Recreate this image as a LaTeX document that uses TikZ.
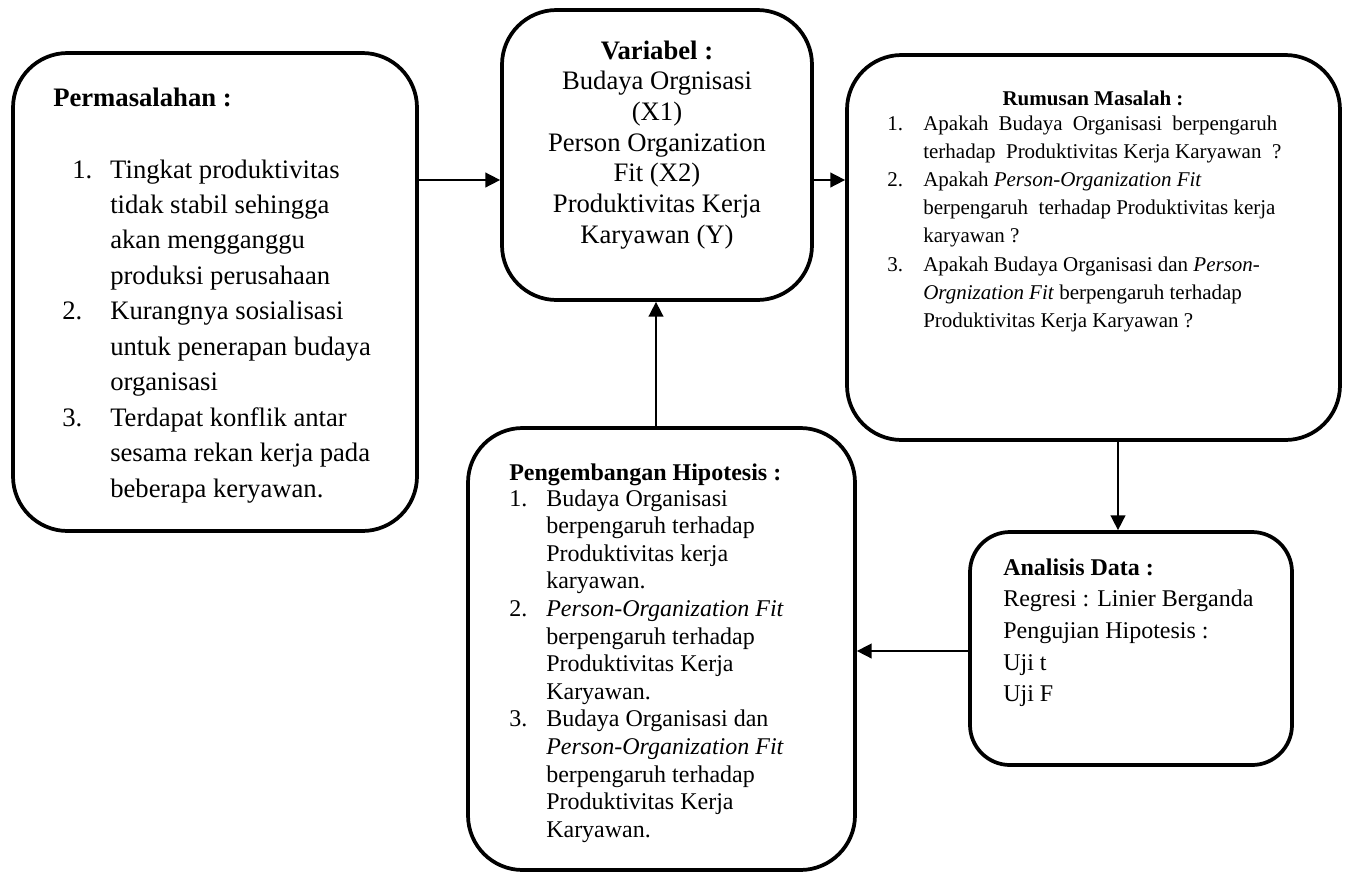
\documentclass[tikz,border=0pt]{standalone}
\usepackage{fontspec}
\setmainfont{Liberation Serif}
\usetikzlibrary{arrows.meta}
\tikzset{
  boxnode/.style={draw, line width=2.8pt, rounded corners=41pt, inner sep=0pt},
  smallbox/.style={boxnode, rounded corners=30pt},
  arr/.style={line width=1.2pt, -{Triangle[length=11pt,width=11pt]}},
  txt/.style={inner sep=0pt, anchor=base west},
}
\begin{document}
\begin{tikzpicture}[x=0.75pt,y=-0.75pt]
\useasboundingbox (0,0) rectangle (1354,872);
% boxes
\node[boxnode, minimum width=303pt, minimum height=358.5pt] (A) at (215,292) {};
\node[boxnode, minimum width=232.5pt, minimum height=217.5pt] (B) at (657,155) {};
\node[boxnode, minimum width=369.75pt, minimum height=288.75pt] (C) at (1093.5,247.5) {};
\node[boxnode, minimum width=290.25pt, minimum height=331.5pt] (D) at (661.5,649) {};
\node[smallbox, minimum width=241.5pt, minimum height=174.75pt] (E) at (1131,648.5) {};
% texts
\node[txt] (Atitle) at (53,106) {\fontsize{20}{26}\selectfont\bfseries Permasalahan :};
\node[txt] (Alist) at (62,178) {\fontsize{20}{26.6}\selectfont
\begin{tabular}[t]{@{}p{36pt}@{}l@{}}
\hspace*{7.5pt}1. & Tingkat produktivitas\\
 & tidak stabil sehingga\\
 & akan mengganggu\\
 & produksi perusahaan\\
2. & Kurangnya sosialisasi\\
 & untuk penerapan budaya\\
 & organisasi\\
3. & Terdapat konflik antar\\
 & sesama rekan kerja pada\\
 & beberapa keryawan.
\end{tabular}};
\node[inner sep=0pt, anchor=base] (Btext) at (657,59) {\fontsize{20}{23}\selectfont
\begin{tabular}[t]{@{}c@{}}
\textbf{Variabel :}\\
Budaya Orgnisasi\\
(X1)\\
Person Organization\\
Fit (X2)\\
Produktivitas Kerja\\
Karyawan (Y)
\end{tabular}};
\node[inner sep=0pt, anchor=base] (Ctitle) at (1093,105) {\fontsize{15.75}{21}\selectfont\bfseries Rumusan Masalah :};
\node[txt] (Clist) at (887,130) {\fontsize{15.75}{21.15}\selectfont
\begin{tabular}[t]{@{}p{27pt}@{}l@{}}
1. & \makebox[265.5pt][s]{Apakah Budaya Organisasi berpengaruh}\\
 & terhadap\ \ Produktivitas Kerja Karyawan\ \ ?\\
2. & Apakah \textit{Person-Organization Fit}\\
 & berpengaruh\ \ terhadap Produktivitas kerja\\
 & karyawan ?\\
3. & Apakah Budaya Organisasi dan \textit{Person-}\\
 & \textit{Orgnization Fit} berpengaruh terhadap\\
 & Produktivitas Kerja Karyawan ?
\end{tabular}};
\node[txt] (Dtitle) at (509,480) {\fontsize{18}{21}\selectfont\bfseries Pengembangan Hipotesis :};
\node[txt] (Dlist) at (509,506) {\fontsize{18}{20.7}\selectfont
\begin{tabular}[t]{@{}p{27.75pt}@{}l@{}}
1. & Budaya Organisasi\\
 & berpengaruh terhadap\\
 & Produktivitas kerja\\
 & karyawan.\\
2. & \textit{Person-Organization Fit}\\
 & berpengaruh terhadap\\
 & Produktivitas Kerja\\
 & Karyawan.\\
3. & Budaya Organisasi dan\\
 & \textit{Person-Organization Fit}\\
 & berpengaruh terhadap\\
 & Produktivitas Kerja\\
 & Karyawan.
\end{tabular}};
\node[txt] (Etext) at (1003,575) {\fontsize{18}{23.8}\selectfont
\begin{tabular}[t]{@{}l@{}}
\textbf{Analisis Data :}\\
Regresi : Linier Berganda\\
Pengujian Hipotesis :\\
Uji t\\
Uji F
\end{tabular}};
% connector levels
\coordinate (row1) at (0,180);
\coordinate (row2) at (0,651);
\coordinate (col1) at (1118,0);
\coordinate (col2) at (656,0);
\draw[arr] (A.east |- row1) -- (B.west |- row1);
\draw[arr] (B.east |- row1) -- (C.west |- row1);
\draw[arr] (C.south -| col1) -- (E.north -| col1);
\draw[arr] (E.west |- row2) -- (D.east |- row2);
\draw[arr] (D.north -| col2) -- (B.south -| col2);
\end{tikzpicture}
\end{document}
